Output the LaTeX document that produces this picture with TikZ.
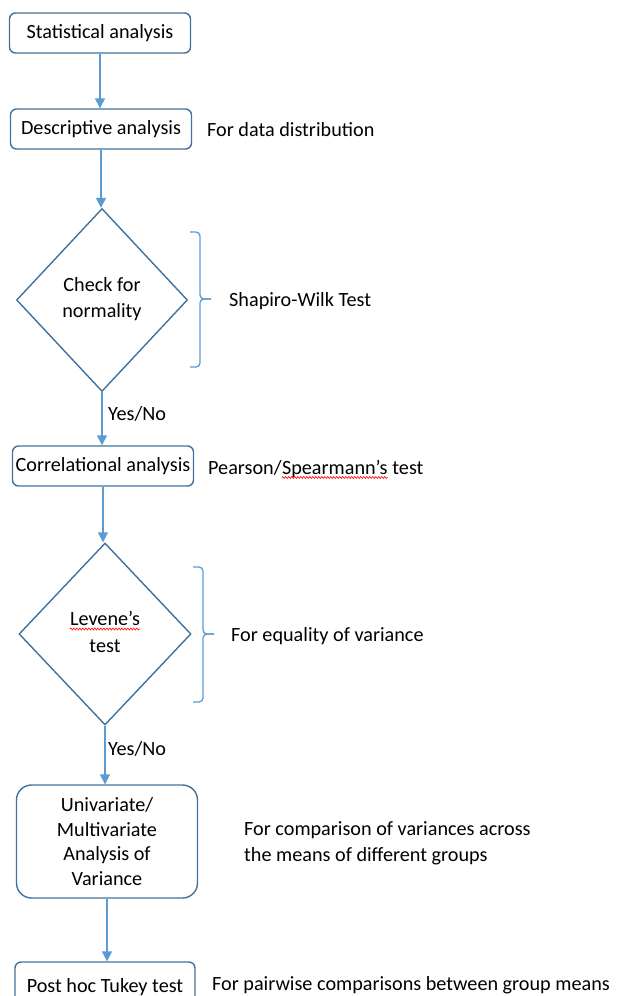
\documentclass[tikz,border=0pt]{standalone}
\usepackage{fontspec}
\setmainfont{Carlito}
\usetikzlibrary{shapes.geometric,arrows.meta,decorations.pathmorphing,calc}
\definecolor{arrowblue}{HTML}{5B9BD5}
\definecolor{edgeblue}{HTML}{41719C}
\begin{document}
\begin{tikzpicture}[x=1pt,y=-1pt,
  every node/.style={font=\fontsize{20.2}{26}\selectfont},
  stepbox/.style={draw=edgeblue,line width=1.4pt,rounded corners=6pt,minimum width=181pt,minimum height=40pt,inner sep=0pt},
  decision/.style={draw=edgeblue,line width=1.4pt,diamond,minimum width=171pt,minimum height=183pt,inner sep=0pt},
  txt/.style={inner sep=0pt,anchor=base west},
  flow/.style={draw=arrowblue,line width=1.5pt,-{Triangle[width=10pt,length=10pt]}},
  bracket/.style={draw=arrowblue,line width=1.3pt,rounded corners=4pt},
  spell/.style={draw=red,line width=0.6pt,decorate,decoration={snake,segment length=3pt,amplitude=1pt}}]
\useasboundingbox (0,0) rectangle (617,996);
\clip (0,0) rectangle (617,996);

% main column
\node[stepbox] (stat) at (100,33) {Statistical analysis};
\node[stepbox] (desc) at (101,129) {Descriptive analysis};
\node[decision] (norm) at (102,300) {};
\node[align=center,inner sep=0pt] (normtext) at (102,299) {Check for\\normality};
\node[stepbox] (corr) at (103,466) {Correlational analysis};
\node[decision,minimum width=172pt,minimum height=182pt] (lev) at (105,634) {};
\node[inner sep=0pt,anchor=base] (levA) at (105,625) {Levene’s};
\node[inner sep=0pt,anchor=base] (levB) at (105,652) {test};
\node[stepbox,rounded corners=15pt,minimum height=113pt,align=center,font=\fontsize{20.2}{24.5}\selectfont] (anova) at (107,841.5) {Univariate/\\Multivariate\\Analysis of\\Variance};
\node[stepbox,minimum height=50pt,minimum width=180pt] (tukey) at (105,987) {Post hoc Tukey test};

% connectors
\draw[flow] (stat.south) -- (stat.south |- desc.north);
\draw[flow] (desc.south) -- (desc.south |- norm.north);
\draw[flow] (norm.south) -- (norm.south |- corr.north);
\draw[flow] (corr.south) -- (corr.south |- lev.north);
\draw[flow] (lev.south) -- (lev.south |- anova.north);
\draw[flow] (anova.south) -- (anova.south |- tukey.north);

\node[inner sep=0pt,anchor=west] (yn1) at (108,414) {Yes/No};
\node[inner sep=0pt,anchor=west] (yn2) at (108,749) {Yes/No};

% brackets
\draw[bracket] (190,232) -- (200,232) -- (200,299) -- (211,299);
\draw[bracket] (211,299) -- (200,299) -- (200,367) -- (190,367);
\draw[bracket] (193,567) -- (203,567) -- (203,634) -- (214,634);
\draw[bracket] (214,634) -- (203,634) -- (203,702) -- (193,702);

% side notes
\node[txt] (t1) at (207,136) {For data distribution};
\node[txt] (t2) at (229,306) {Shapiro-Wilk Test};
\node[txt] (t3a) at (208,474) {Pearson/};
\node[txt] (t3b) at (t3a.base east) {Spearmann’s};
\node[txt] (t3c) at (t3b.base east) {\ test};
\node[txt] (t4) at (231,641) {For equality of variance};
\node[inner sep=0pt,align=left,anchor=west] (t5) at (244,843) {For comparison of variances across\\the means of different groups};
\node[txt] (t6) at (212,990) {For pairwise comparisons between group means};

% spell-check marks
\draw[spell] ($(t3b.base west)+(0,3.5)$) -- ($(t3b.base east)+(0,3.5)$);
\draw[spell] ($(levA.base west)+(0,4)$) -- ($(levA.base east)+(0,4)$);
\end{tikzpicture}
\end{document}
